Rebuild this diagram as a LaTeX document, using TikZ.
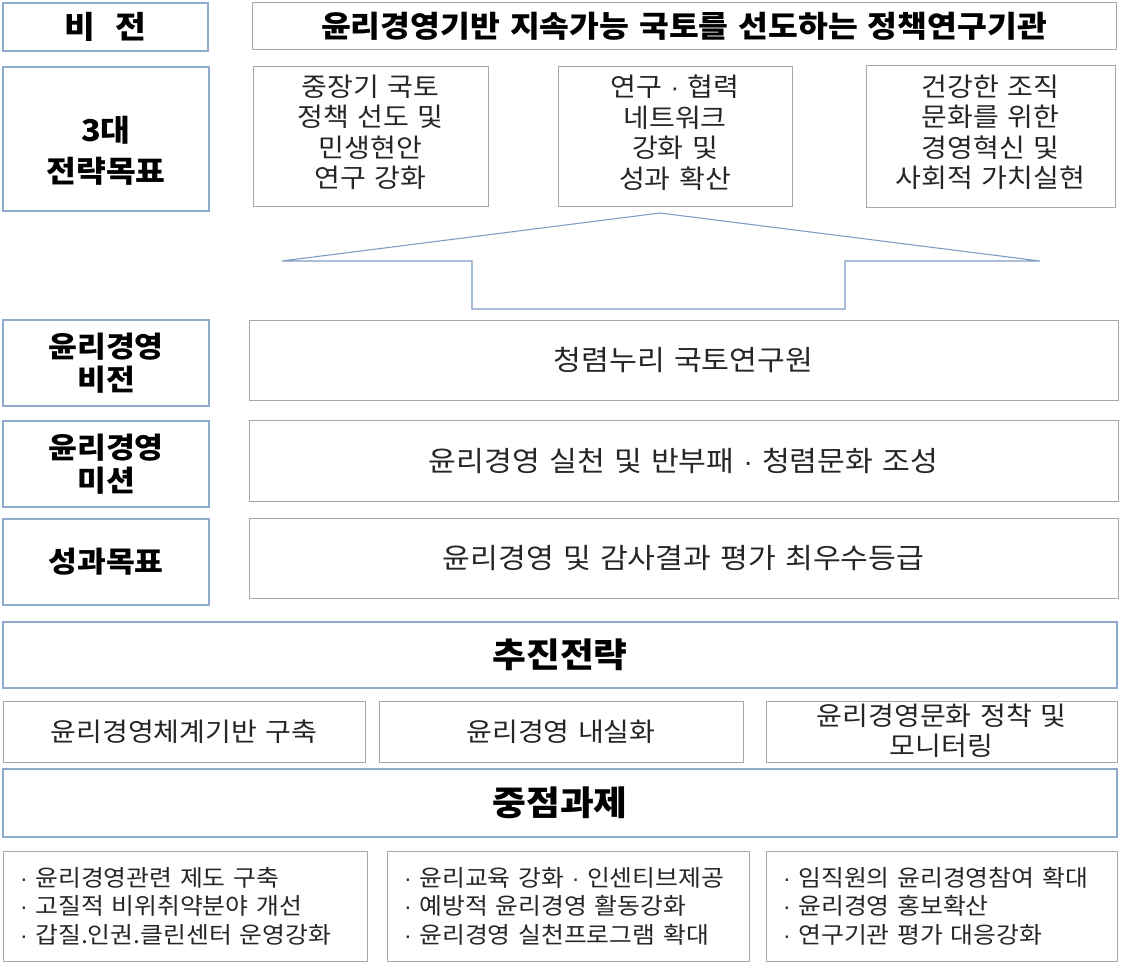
\documentclass[tikz,border=0pt]{standalone}
\usepackage{fontspec}
\setmainfont{Noto Sans CJK KR}[WordSpace=1.35, FakeStretch=1.08]
\newfontfamily\dotf{Liberation Sans}
\newcommand\md{{\dotf ·}}
\definecolor{lblue}{HTML}{8FAACC}
\definecolor{gbord}{HTML}{A8A8A8}
\definecolor{arrowc}{HTML}{7F9DC4}
\definecolor{txt}{HTML}{262626}
% box with centred text
\newcommand\bx[7]{\node[#6, minimum width={(#4-#2)*1pt}, minimum height={(#5-#3)*1pt}] (#1) at ({(#2+#4)/2},{(#3+#5)/2}) {#7};}
% box with its text moved by dy (pixels, downwards positive)
\newcommand\bxo[9]{\node[#6, minimum width={(#4-#2)*1pt}, minimum height={(#5-#3)*1pt}] (#1) at ({(#2+#4)/2},{(#3+#5)/2}) {};
  \node[#8, align=center, inner sep=0pt] (#1t) at ({(#2+#4)/2},{(#3+#5)/2+#7}) {#9};}
\begin{document}
\begin{tikzpicture}[x=1pt,y=-1pt,
  lbl/.style={draw=lblue, line width=1.1pt, align=center, inner sep=0pt, outer sep=0pt, text=black, font=\fontsize{29}{33}\selectfont\bfseries},
  gbox/.style={draw=gbord, line width=1pt, align=center, inner sep=0pt, outer sep=0pt, text=txt},
  goalf/.style={text=txt, font=\fontsize{26}{30.5}\selectfont},
  rowf/.style={font=\fontsize{28}{32}\selectfont},
  strf/.style={font=\fontsize{26}{30}\selectfont},
  headf/.style={font=\fontsize{34}{38}\selectfont\bfseries},
  listbox/.style={draw=gbord, line width=1pt, align=left, inner ysep=0pt, inner xsep=17pt, outer sep=0pt, text=txt, font=\fontsize{23}{28.5}\selectfont}
]
\useasboundingbox (0,0) rectangle (1121,963);
% vision row
\bx{vlab}{3}{3}{208}{51}{lbl, font=\fontsize{31}{34}\selectfont\bfseries}{비 \ 전}
\bx{vtxt}{252}{3}{1116}{50}{gbox, text=black, font=\fontsize{30}{34}\selectfont\bfseries}{윤리경영기반 지속가능 국토를 선도하는 정책연구기관}
% strategic goals
\bxo{glab}{3}{67}{209}{211}{lbl}{12}{text=black, font=\fontsize{30}{41}\selectfont\bfseries}{3대\\전략목표}
\bxo{g1}{253}{67}{488}{206}{gbox}{-4}{goalf}{중장기 국토\\정책 선도 및\\민생현안\\연구 강화}
\bxo{g2}{558}{67}{792}{206}{gbox}{-4}{goalf}{연구 \md{} 협력\\네트워크\\강화 및\\성과 확산}
\bxo{g3}{866}{66}{1115}{207}{gbox}{-4}{goalf}{건강한 조직\\문화를 위한\\경영혁신 및\\사회적 가치실현}
% big arrow
\draw[arrowc, line width=1.1pt, line join=miter] (282,261) -- (660,213) -- (1040,261) -- (845,261) -- (845,309) -- (472,309) -- (472,261) -- cycle;
% ethics rows
\bx{elab}{3}{320}{209}{406}{lbl}{윤리경영\\비전}
\bx{etxt}{249}{320}{1118}{400}{gbox, rowf}{청렴누리 국토연구원}
\bx{mlab}{3}{421}{209}{507}{lbl}{윤리경영\\미션}
\bx{mtxt}{249}{420}{1118}{501}{gbox, rowf}{윤리경영 실천 및 반부패 \md{} 청렴문화 조성}
\bx{plab}{3}{519}{209}{605}{lbl}{성과목표}
\bx{ptxt}{249}{518}{1118}{598}{gbox, rowf}{윤리경영 및 감사결과 평가 최우수등급}
% strategies
\bx{shead}{3}{622}{1117}{688}{lbl, headf}{추진전략}
\bx{s1}{3}{701}{365}{762}{gbox, strf}{윤리경영체계기반 구축}
\bx{s2}{379}{701}{743}{762}{gbox, strf}{윤리경영 내실화}
\bxo{s3}{766}{701}{1117}{762}{gbox}{-1}{text=txt, font=\fontsize{26}{30}\selectfont}{윤리경영문화 정착 및\\모니터링}
% key tasks
\bx{khead}{3}{769}{1117}{837}{lbl, headf}{중점과제}
\node[listbox, text width=330pt, minimum height=110pt] (k1) at (185,906) {\md{} 윤리경영관련 제도 구축\\\md{} 고질적 비위취약분야 개선\\\md{} 갑질.인권.클린센터 운영강화};
\node[listbox, text width=328pt, minimum height=110pt] (k2) at (568,906) {\md{} 윤리교육 강화 \md{} 인센티브제공\\\md{} 예방적 윤리경영 활동강화\\\md{} 윤리경영 실천프로그램 확대};
\node[listbox, text width=317pt, minimum height=110pt] (k3) at (941.5,906) {\md{} 임직원의 윤리경영참여 확대\\\md{} 윤리경영 홍보확산\\\md{} 연구기관 평가 대응강화};
\end{tikzpicture}
\end{document}
